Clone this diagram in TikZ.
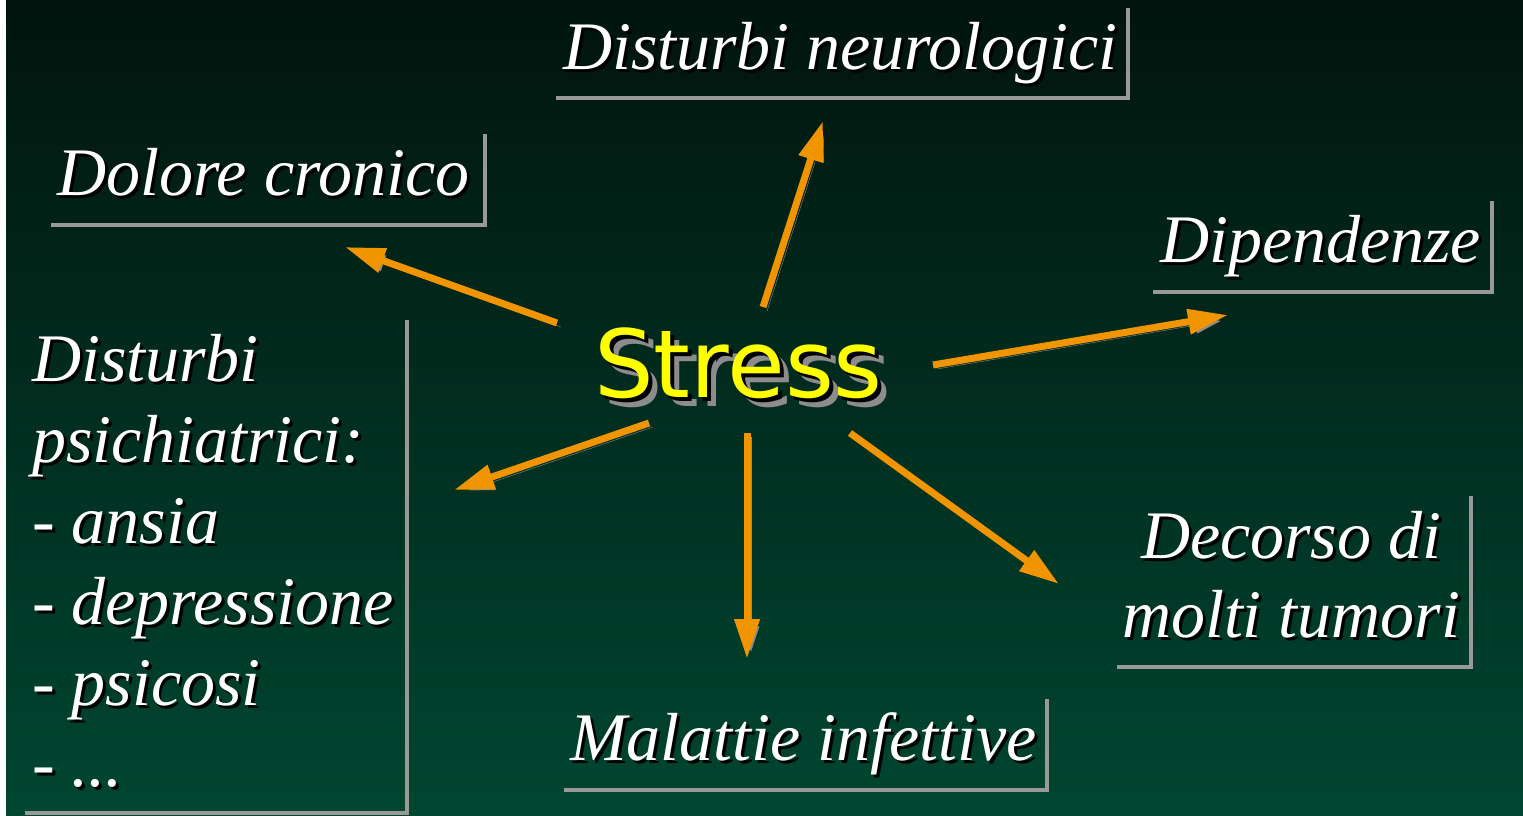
\documentclass[tikz,border=0pt]{standalone}
\usepackage{fontspec}
\setmainfont{Liberation Serif}
\newfontfamily\stressfont{DejaVu Sans}
\usetikzlibrary{arrows.meta}
\definecolor{bgtop}{RGB}{1,20,14}
\definecolor{bgbot}{RGB}{0,70,48}
\definecolor{arrorange}{RGB}{240,148,0}
\definecolor{linegray}{RGB}{153,153,153}
\definecolor{shadegray}{RGB}{140,140,140}
\definecolor{stressyellow}{RGB}{255,255,0}
\newcommand\shtxt[1]{\leavevmode\rlap{\kern3pt\raisebox{-3pt}{\color{black}#1}}#1}
\newcommand\stresstxt[1]{\leavevmode\rlap{\kern9pt\raisebox{-9pt}{\color{shadegray}#1}}\rlap{\kern4pt\raisebox{-4pt}{\color{black}#1}}#1}
\begin{document}
\begin{tikzpicture}[x=1pt,y=-1pt,
  lbl/.style={text=white, inner sep=0pt, outer sep=0pt, anchor=base west,
    font=\fontsize{68}{80}\selectfont\itshape},
  stressnode/.style={text=stressyellow, inner sep=0pt, outer sep=0pt, anchor=base west,
    font=\stressfont\fontsize{94}{110}\selectfont},
  boxline/.style={draw=linegray, line width=3.5pt},
  arr/.style={draw=arrorange, line width=7pt,
    -{Triangle[length=40pt,width=24pt]},
    preaction={draw=shadegray, transform canvas={shift={(4pt,-4pt)}}}}
]
\useasboundingbox (0,0) rectangle (1523,816);
\fill[white] (0,0) rectangle (1523,816);
\shade[top color=bgtop, bottom color=bgbot] (6,0) rectangle (1523,816);

% frames
\draw[boxline] (556,98) -- (1128,98) -- (1128,8);
\draw[boxline] (51,225) -- (485,225) -- (485,134);
\draw[boxline] (1153,292) -- (1492,292) -- (1492,201);
\draw[boxline] (25,813) -- (407,813) -- (407,320);
\draw[boxline] (1117,667) -- (1471,667) -- (1471,496);
\draw[boxline] (564,790) -- (1047,790) -- (1047,699);

% texts
\node[lbl] (neuro) at (563,70) {\shtxt{Disturbi neurologici}};
\node[lbl] (dolore) at (57,195) {\shtxt{Dolore cronico}};
\node[lbl] (dip) at (1160,262) {\shtxt{Dipendenze}};
\node[lbl] (dec1) at (1141,558) {\shtxt{Decorso di}};
\node[lbl] (dec2) at (1122,637) {\shtxt{molti tumori}};
\node[lbl] (mal) at (570,760) {\shtxt{Malattie infettive}};
\node[lbl] (psi1) at (32,381) {\shtxt{Disturbi}};
\node[lbl] (psi2) at (32,462) {\shtxt{psichiatrici:}};
\node[lbl] (psi3) at (32,543) {\shtxt{- ansia}};
\node[lbl] (psi4) at (32,624) {\shtxt{- depressione}};
\node[lbl] (psi5) at (32,705) {\shtxt{- psicosi}};
\node[lbl] (psi6) at (32,786) {\shtxt{- ...}};

\node[stressnode] (stress) at (594,397) {\stresstxt{Stress}};

% arrow end points
\coordinate (a1s) at (763,307); \coordinate (a1e) at (823,121);
\coordinate (a2s) at (557,323); \coordinate (a2e) at (345,247);
\coordinate (a3s) at (933,365); \coordinate (a3e) at (1228,315);
\coordinate (a4s) at (649,423); \coordinate (a4e) at (454,490);
\coordinate (a5s) at (747,433); \coordinate (a5e) at (747,659);
\coordinate (a6s) at (850,433); \coordinate (a6e) at (1059,584);

\draw[arr] (a1s) -- (a1e);
\draw[arr] (a2s) -- (a2e);
\draw[arr] (a3s) -- (a3e);
\draw[arr] (a4s) -- (a4e);
\draw[arr] (a5s) -- (a5e);
\draw[arr] (a6s) -- (a6e);
\end{tikzpicture}
\end{document}
